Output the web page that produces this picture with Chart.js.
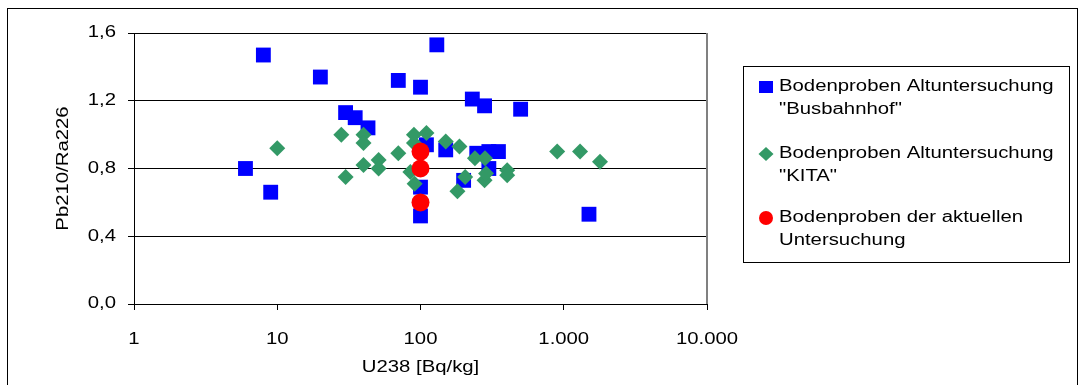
<!DOCTYPE html>
<html>
<head>
<meta charset="utf-8">
<script src="https://cdn.jsdelivr.net/npm/chart.js@4"></script>
<style>
  html, body { margin: 0; padding: 0; background: #fff; }
  canvas { display: block; }
</style>
</head>
<body>
<canvas id="chart" width="1079" height="385"></canvas>
<script>
// Data
const busX = [8, 20, 70, 100, 130, 230, 280, 500, 30, 35, 43, 6, 9, 100, 100, 1500, 110, 150, 247, 300, 350, 300, 200];
const busY = [1.47, 1.34, 1.32, 1.28, 1.53, 1.21, 1.17, 1.15, 1.13, 1.10, 1.04, 0.80, 0.66, 0.69, 0.52, 0.53, 0.94, 0.91, 0.89, 0.90, 0.90, 0.80, 0.73];

const kitaX = [10, 28, 30, 40, 40, 40, 51, 51, 70, 90, 110, 90, 85, 91, 150, 187, 181, 205, 240, 282, 280, 287, 403, 403, 900, 1300, 1790];
const kitaY = [0.92, 1.00, 0.75, 1.00, 0.95, 0.82, 0.85, 0.80, 0.89, 1.00, 1.01, 0.95, 0.78, 0.71, 0.96, 0.93, 0.665, 0.75, 0.86, 0.86, 0.73, 0.77, 0.79, 0.76, 0.90, 0.90, 0.84];

const aktX = [100, 100, 100];
const aktY = [0.90, 0.80, 0.60];

const xTicks = [1, 10, 100, 1000, 10000];
const yTicks = [0, 0.4, 0.8, 1.2, 1.6];

const legendLabels = [
  ['Bodenproben Altuntersuchung', '"Busbahnhof"'],
  ['Bodenproben Altuntersuchung', '"KITA"'],
  ['Bodenproben der aktuellen', 'Untersuchung']
];
const xTitle = 'U238 [Bq/kg]';
const yTitle = 'Pb210/Ra226';

const BLUE = '#0000ff', GREEN = '#339966', RED = '#ff0000';
const FONT = '16px "Liberation Sans", Arial, sans-serif';
const SX = 1.27; // the source font is drawn wider than Arial

const pts = (xs, ys) => xs.map((x, i) => ({ x: x, y: ys[i] }));

const fmtY = v => v.toFixed(1).replace('.', ',');
const fmtX = v => String(v).replace(/\B(?=(\d{3})+(?!\d))/g, '.');

function wideText(ctx, text, x, y, align, rot) {
  ctx.save();
  ctx.translate(x, y);
  if (rot) ctx.rotate(rot);
  ctx.scale(SX, 1);
  ctx.textAlign = align;
  ctx.textBaseline = 'middle';
  ctx.fillText(text, 0, 0);
  ctx.restore();
}

const decor = {
  id: 'decor',
  beforeDatasetsDraw(chart) {
    const { ctx, chartArea: a } = chart;
    ctx.save();
    ctx.strokeStyle = '#808080';
    ctx.lineWidth = 2;
    ctx.beginPath();
    ctx.moveTo(a.right, a.top);
    ctx.lineTo(a.right, a.bottom);
    ctx.stroke();
    ctx.restore();
  },
  afterDraw(chart) {
    const { ctx, chartArea: a, scales } = chart;
    ctx.save();
    // outer frame
    ctx.strokeStyle = '#000';
    ctx.lineWidth = 1;
    ctx.strokeRect(7.5, 8.5, 1070, 400);

    ctx.fillStyle = '#000';
    ctx.font = FONT;
    yTicks.forEach(v => wideText(ctx, fmtY(v), 116, scales.y.getPixelForValue(v), 'right'));
    xTicks.forEach(v => wideText(ctx, fmtX(v), scales.x.getPixelForValue(v), 340, 'center'));
    wideText(ctx, xTitle, (a.left + a.right) / 2, 368, 'center');
    wideText(ctx, yTitle, 64, (a.top + a.bottom) / 2, 'center', -Math.PI / 2);

    // legend
    ctx.strokeRect(743.5, 66.5, 326, 196);
    const rows = [87, 154, 218];
    rows.forEach((cy, i) => {
      const cx = 766;
      ctx.beginPath();
      if (i === 0) {
        ctx.fillStyle = BLUE;
        ctx.rect(cx - 7, cy - 6, 14, 12);
      } else if (i === 1) {
        ctx.fillStyle = GREEN;
        ctx.moveTo(cx, cy - 7);
        ctx.lineTo(cx + 7.5, cy);
        ctx.lineTo(cx, cy + 7);
        ctx.lineTo(cx - 7.5, cy);
        ctx.closePath();
      } else {
        ctx.fillStyle = RED;
        ctx.arc(cx, cy, 7, 0, Math.PI * 2);
      }
      ctx.fill();
      ctx.fillStyle = '#000';
      legendLabels[i].forEach((line, j) => wideText(ctx, line, 779, cy + j * 23, 'left'));
    });
    ctx.restore();
  }
};

new Chart(document.getElementById('chart'), {
  type: 'scatter',
  data: {
    datasets: [
      {
        label: legendLabels[0].join(' '),
        data: pts(busX, busY),
        pointStyle: 'rect',
        pointRadius: 10.5,
        pointBorderWidth: 0,
        backgroundColor: BLUE,
        borderColor: BLUE,
        order: 2
      },
      {
        label: legendLabels[1].join(' '),
        data: pts(kitaX, kitaY),
        pointStyle: 'rectRot',
        pointRadius: 8,
        pointBorderWidth: 0,
        backgroundColor: GREEN,
        borderColor: GREEN,
        order: 1
      },
      {
        label: legendLabels[2].join(' '),
        data: pts(aktX, aktY),
        pointStyle: 'circle',
        pointRadius: 9,
        pointBorderWidth: 0,
        backgroundColor: RED,
        borderColor: RED,
        order: 0
      }
    ]
  },
  options: {
    responsive: false,
    animation: false,
    events: [],
    layout: { padding: { top: 33, right: 372, bottom: 0, left: 0 } },
    plugins: {
      legend: { display: false },
      tooltip: { enabled: false }
    },
    scales: {
      x: {
        type: 'logarithmic',
        min: 1,
        max: 10000,
        afterBuildTicks: s => { s.ticks = xTicks.map(v => ({ value: v })); },
        afterFit: s => { s.height = 81; },
        ticks: { display: false },
        grid: { drawOnChartArea: false, drawTicks: true, tickLength: 6, color: '#000' },
        border: { display: true, color: '#000' }
      },
      y: {
        min: 0,
        max: 1.6,
        afterBuildTicks: s => { s.ticks = yTicks.map(v => ({ value: v })); },
        afterFit: s => { s.width = 134; },
        ticks: { display: false },
        grid: { color: '#000', tickLength: 6 },
        border: { display: true, color: '#000' }
      }
    }
  },
  plugins: [decor]
});
</script>
</body>
</html>
